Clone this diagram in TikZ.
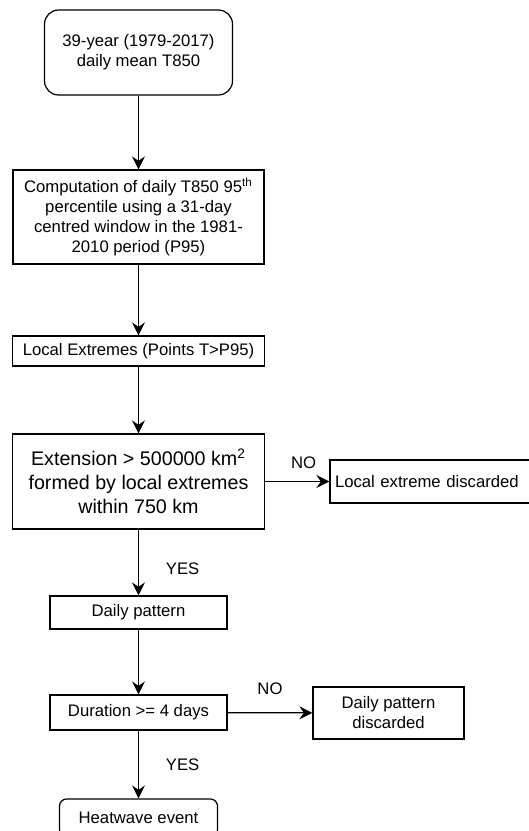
\documentclass[tikz,border=0pt]{standalone}
\usepackage{fontspec}
\setsansfont{Liberation Sans}
\usepackage{tikz}
\usetikzlibrary{positioning,arrows.meta}

\begin{document}
\begin{tikzpicture}[
  font=\sffamily\fontsize{9.5}{11.4}\selectfont,
  >={Stealth[length=2.6mm,width=2.6mm,inset=0.9mm]},
  blk/.style={draw=black, line width=0.7pt, align=center, inner sep=2pt},
  term/.style={blk, rounded corners=8pt},
  big/.style={font=\sffamily\fontsize{11.2}{13.8}\selectfont},
  lab/.style={inner sep=1pt}
]
\useasboundingbox (0,0) rectangle (10.56,-16.62);

% ---------------- MAIN COLUMN ----------------
\node (data) at (2.77,-1.05) [term, minimum width=3.76cm, minimum height=1.7cm] {39-year (1979-2017)\\daily mean T850};
\node (p95) at (2.77,-4.34) [blk, minimum width=5.02cm, minimum height=1.88cm] {Computation of daily T850 95\textsuperscript{th}\\percentile using a 31-day\\centred window in the 1981-\\2010 period (P95)};
\node (locx) at (2.77,-7.02) [blk, minimum width=5.04cm, minimum height=0.6cm] {Local Extremes (Points T>P95)};
\node (ext) at (2.77,-9.63) [blk, big, minimum width=5.04cm, minimum height=1.9cm] {Extension > 500000 km\textsuperscript{2}\\formed by local extremes\\within 750 km};
\node (pat) at (2.77,-12.25) [blk, minimum width=3.54cm, minimum height=0.66cm] {Daily pattern};
\node (dur) at (2.77,-14.25) [blk, minimum width=3.54cm, minimum height=0.7cm] {Duration >= 4 days};
\node (hw) at (2.77,-16.36) [term, rounded corners=4pt, minimum width=3.16cm, minimum height=0.76cm] {Heatwave event};

% ---------------- DISCARDED ----------------
\node (disc1) at (8.7,-9.63) [blk, align=left, text width=4.0cm, inner xsep=0.1cm, minimum height=0.86cm] {Local extreme discarded};
\node (disc2) at (7.77,-14.26) [blk, minimum width=3.02cm, minimum height=1.04cm] {Daily pattern\\discarded};

% ---------------- CONNECTORS ----------------
\draw[->, line width=0.7pt] (data) -- (p95);
\draw[->, line width=0.7pt] (p95) -- (locx);
\draw[->, line width=0.7pt] (locx) -- (ext);
\draw[->, line width=0.7pt] (ext) -- (pat) node[pos=0.6, right=0.5cm, lab] {YES};
\draw[->, line width=0.7pt] (pat) -- (dur);
\draw[->, line width=0.7pt] (dur) -- (hw) node[midway, right=0.5cm, lab] {YES};
\draw[->, line width=0.7pt] (ext) -- (disc1) node[pos=0.6, above=6pt, lab] {NO};
\draw[->, line width=0.7pt] (dur) -- (disc2) node[midway, above=9pt, lab] {NO};

\end{tikzpicture}
\end{document}
